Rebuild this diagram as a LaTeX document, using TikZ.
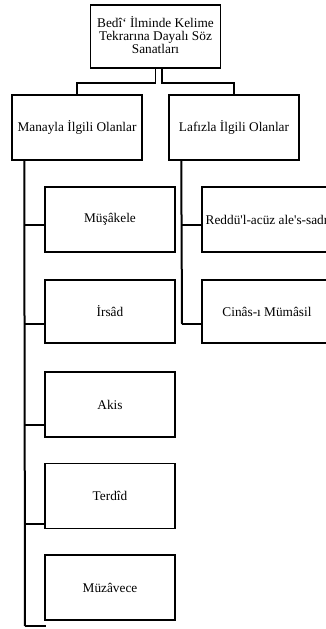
\documentclass[tikz,border=0pt]{standalone}
\usepackage{fontspec}
\setmainfont{Liberation Serif}[Ligatures=TeXOff]
\begin{document}
\begin{tikzpicture}[x=1pt,y=-1pt,
  box/.style={draw=black, line width=1.5pt, minimum width=130pt, minimum height=65pt,
    inner sep=0pt, align=center, font=\fontsize{13.3}{12.7}\selectfont},
  conn/.style={draw=black, line width=1.5pt},
  spine/.style={draw=black, line width=2pt}]
\useasboundingbox (0,0) rectangle (326,629);
\clip (0,0) rectangle (326,629);
% boxes
\node[box, minimum height=63pt] (top) at (155.5,36.5) {\raisebox{-3.5pt}{\begin{tabular}{@{}c@{}}Bedî‘ İlminde Kelime\\Tekrarına Dayalı Söz\\Sanatları\end{tabular}}};
\node[box] (L) at (77,127.5) {Manayla İlgili Olanlar};
\node[box] (R) at (234,127.5) {Lafızla İlgili Olanlar};
\node[box] (c1) at (110,219.5) {Müşâkele};
\node[box, minimum height=63pt] (c2) at (110,311.5) {İrsâd};
\node[box] (c3) at (110,404.5) {Akis};
\node[box] (c4) at (110,496) {Terdîd};
\node[box] (c5) at (110,587.5) {Müzâvece};
\node[box] (r1) at (267,219.5) {Reddü'l-acüz ale's-sadr};
\node[box, minimum height=63pt] (r2) at (267,311.5) {Cinâs-ı Mümâsil};
% top connectors
\draw[conn] ([xshift=0pt]top.south) -- ++(0,14) -| (L.north);
\draw[conn] ([xshift=6.5pt]top.south) -- ++(0,14) -| (R.north);
% left spine
\coordinate (ltop) at ([xshift=13pt]L.south west);
\coordinate (s1) at (25,225);
\coordinate (s2) at (25,324);
\coordinate (s3) at (25,425);
\coordinate (s4) at (25,524);
\coordinate (s5) at (25,626);
\coordinate (e5) at (46,626);
\draw[spine] (ltop) -- (s5);
\draw[conn] (s5) -- (e5);
\draw[conn] (s1) -- (s1 -| c1.west);
\draw[conn] (s2) -- (s2 -| c2.west);
\draw[conn] (s3) -- (s3 -| c3.west);
\draw[conn] (s4) -- (s4 -| c4.west);
% right spine
\coordinate (rtop) at ([xshift=13pt]R.south west);
\coordinate (t1) at (182,225);
\coordinate (t2) at (182,324);
\draw[spine] (rtop) -- (t2);
\draw[conn] (t2) -- (t2 -| r2.west);
\draw[conn] (t1) -- (t1 -| r1.west);
\end{tikzpicture}
\end{document}
